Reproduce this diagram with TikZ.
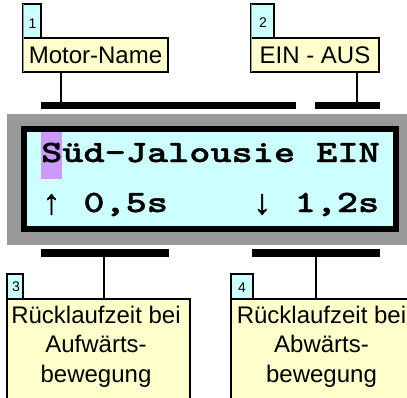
\documentclass[tikz,border=0pt]{standalone}
\usepackage{fontspec}
\setmainfont{Liberation Sans}
\newfontfamily\lcdfont[FakeStretch=1.3,FakeBold=1.2]{lmmonolt10-bold.otf}
\newfontfamily\arrowfont[FakeBold=1.5]{Liberation Mono Bold}
\definecolor{boxyellow}{HTML}{FFFFCC}
\definecolor{tagcyan}{HTML}{CCFFFF}
\definecolor{lcdcyan}{HTML}{CCFFFF}
\definecolor{framegray}{HTML}{999999}
\definecolor{hilite}{HTML}{CC99FF}
\tikzset{
  blk/.style={rectangle, anchor=north west, inner sep=0pt, outer sep=0pt},
  labelbox/.style={blk, draw=black, line width=2pt, fill=boxyellow},
  tagbox/.style={blk, draw=black, line width=1.5pt, fill=tagcyan},
  bar/.style={blk, fill=black},
  conn/.style={draw=black, line width=2pt},
  tagnum/.style={inner sep=0pt, anchor=base, font=\fontsize{14}{16}\selectfont},
  lbl/.style={inner sep=0pt, anchor=base, font=\fontsize{24}{29}\selectfont},
  lcdtext/.style={inner sep=0pt, anchor=base west, font=\fontsize{31}{38}\lcdfont},
  lcdarrow/.style={inner sep=0pt, anchor=center, font=\fontsize{35}{40}\arrowfont}
}
\begin{document}
\begin{tikzpicture}[x=1pt,y=-1pt]
\clip (0,0) rectangle (407,397);
\fill[white] (0,0) rectangle (407,397);
% top label 1
\node[tagbox, minimum width=18pt, minimum height=34pt] (tag1) at (23,4) {};
\node[labelbox, minimum width=145pt, minimum height=34pt] (motor) at (23,38) {};
\draw[framegray, line width=1pt] (tag1.north west) -- (motor.south west);
\node[tagnum] (n1) at (32.5,28) {1};
\node[lbl] (tmotor) at (95.5,63.5) {Motor-Name};
% top label 2
\node[tagbox, minimum width=23pt, minimum height=34pt] (tag2) at (251,4) {};
\node[labelbox, minimum width=128pt, minimum height=34pt] (einaus) at (251,38) {};
\draw[framegray, line width=1pt] (tag2.north west) -- (einaus.south west);
\node[tagnum] (n2) at (263,27.5) {2};
\node[lbl] (teinaus) at (315,63.5) {EIN - AUS};
% top bars
\node[bar, minimum width=255pt, minimum height=7pt] (bar1) at (41,102) {};
\node[bar, minimum width=65pt, minimum height=7pt] (bar2) at (315,102) {};
\coordinate (c1) at (61,102);
\coordinate (c2) at (357,102);
\draw[conn] (motor.south -| c1) -- (c1);
\draw[conn] (einaus.south -| c2) -- (c2);
% LCD
\node[blk, fill=framegray, minimum width=410pt, minimum height=131pt] (frame) at (7,114) {};
\node[blk, draw=black, line width=6pt, fill=lcdcyan, minimum width=372pt, minimum height=100pt] (screen) at (24,129) {};
\node[blk, fill=hilite, minimum width=21pt, minimum height=47pt] (cursor) at (41,132) {};
\node[lcdtext] (line1) at (41,162) {Süd-Jalousie EIN};
\node[lcdarrow] (ar1) at (51.5,204.5) {↑};
\node[lcdtext] (line2a) at (83.2,212) {0,5s};
\node[lcdarrow] (ar2) at (262.2,204.5) {↓};
\node[lcdtext] (line2b) at (294.4,212) {1,2s};
% bottom bars
\node[bar, minimum width=128pt, minimum height=8pt] (bar3) at (41,249) {};
\node[bar, minimum width=128pt, minimum height=8pt] (bar4) at (252,249) {};
% bottom label 3
\node[tagbox, minimum width=16pt, minimum height=25pt] (tag3) at (7,274) {};
\node[labelbox, line width=2.5pt, minimum width=183pt, minimum height=130pt] (box3) at (7,299) {};
\node[tagnum] (n3) at (16,291.5) {3};
\node[lbl] (t3a) at (96,323) {Rücklaufzeit bei};
\node[lbl] (t3b) at (96,352.5) {Aufwärts-};
\node[lbl] (t3c) at (96,382) {bewegung};
% bottom label 4
\node[tagbox, minimum width=22pt, minimum height=25pt] (tag4) at (231,274) {};
\node[labelbox, line width=2.5pt, minimum width=200pt, minimum height=130pt] (box4) at (231,299) {};
\node[tagnum] (n4) at (242,292.5) {4};
\node[lbl] (t4a) at (321.5,323) {Rücklaufzeit bei};
\node[lbl] (t4b) at (321.5,352.5) {Abwärts-};
\node[lbl] (t4c) at (321.5,382) {bewegung};
% bottom connectors
\coordinate (c3) at (104,257);
\coordinate (c4) at (316,257);
\draw[conn] (c3) -- (c3 |- box3.north);
\draw[conn] (c4) -- (c4 |- box4.north);
\end{tikzpicture}
\end{document}
